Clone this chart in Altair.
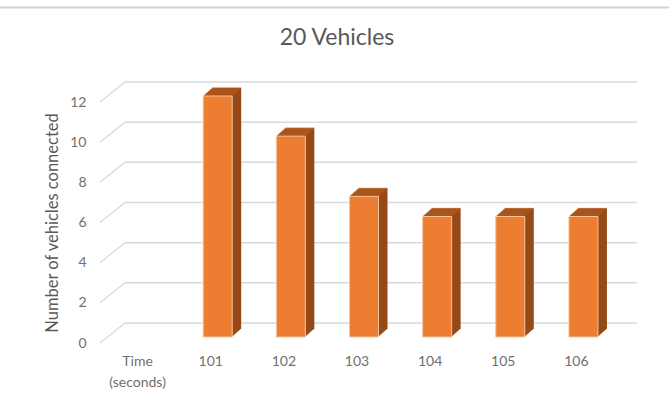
import altair as alt
import pandas as pd

# Chart text
TITLE = "20 Vehicles"
Y_TITLE = "Number of vehicles connected"

# Data: vehicles connected at each second (the first category carries no value)
categories = ["Time (seconds)", "101", "102", "103", "104", "105", "106"]
vehicles = [None, 12, 10, 7, 6, 6, 6]
y_ticks = [0, 2, 4, 6, 8, 10, 12]

# Layout (pixels)
W, H = 512, 241
LEFT, TOP = 101, 102
FONT = "Lato"

# 3-D column styling
FRONT = "#ed7d31"
EDGE = "#f6c4a0"
SIDE = "#964a17"
TOPC = "#b2591d"
GRID = "#d9d9d9"
BAR_W = 29
BAR_DX, BAR_DY = 7, -6        # front face sits slightly behind the floor edge
DEPTH_X, DEPTH_Y = 9, 8       # extrusion of the columns
WALL_DX, WALL_DY = 25, -20    # back wall offset for the gridlines

bars = pd.DataFrame({"time": categories, "vehicles": vehicles})
grid = pd.DataFrame({"tick": y_ticks})
title_df = pd.DataFrame({"title": [TITLE]})

x_enc = alt.X(
    "time:N",
    scale=alt.Scale(domain=categories, paddingInner=0, paddingOuter=0),
    axis=alt.Axis(
        title=None, labelAngle=0, labelPadding=11, domain=False, ticks=False,
        labelExpr="split(datum.label, ' ')", labelLineHeight=21,
        labelFontSize=14, labelColor="#6f6f6f", labelFont=FONT,
    ),
)
y_scale = alt.Scale(domain=[0, 12], nice=False, zero=True)
y_axis = alt.Axis(
    values=y_ticks, title=Y_TITLE, grid=False, domain=False, ticks=False,
    labelPadding=15, labelFontSize=14, labelColor="#6f6f6f", labelFont=FONT,
    titleFontSize=16.5, titleFontWeight="normal", titleColor="#595959",
    titleFont=FONT, titlePadding=9,
)
y_enc = alt.Y("vehicles:Q", scale=y_scale, axis=y_axis, title=Y_TITLE)
y_tick = alt.Y("tick:Q", scale=y_scale, axis=y_axis, title=Y_TITLE)

base = alt.Chart(bars)

# Back-wall gridlines
grid_lines = alt.Chart(grid).mark_rule(color=GRID, strokeWidth=1.5, yOffset=WALL_DY).encode(
    y=y_tick,
    x=alt.value(WALL_DX - 1),
    x2=alt.value(536),
)

# Side-wall connectors from the floor edge to the back wall
connectors = alt.Chart(grid).mark_rule(color=GRID, strokeWidth=1.2, y2Offset=WALL_DY).encode(
    y=y_tick,
    y2=alt.Y2("tick"),
    x=alt.value(-1),
    x2=alt.value(WALL_DX - 1),
)

layers = [grid_lines, connectors]

# Extruded side of each column
for k in range(DEPTH_X, 0, -1):
    dy = BAR_DY - k * DEPTH_Y / DEPTH_X
    layers.append(
        base.mark_bar(size=BAR_W, color=SIDE, xOffset=BAR_DX + k, x2Offset=BAR_DX + k,
                      yOffset=dy, y2Offset=dy).encode(x=x_enc, y=y_enc)
    )

# Top face of each column
for k in range(1, DEPTH_X + 1):
    dy = BAR_DY - k * DEPTH_Y / DEPTH_X
    layers.append(
        base.mark_tick(size=BAR_W, thickness=1.3, color=TOPC, orient="horizontal",
                       xOffset=BAR_DX + k, yOffset=dy).encode(x=x_enc, y=y_enc)
    )

# Front face
layers.append(
    base.mark_bar(size=BAR_W, color=FRONT, stroke=EDGE, strokeWidth=1,
                  xOffset=BAR_DX, x2Offset=BAR_DX, yOffset=BAR_DY, y2Offset=BAR_DY)
    .encode(x=x_enc, y=y_enc)
)

# Chart frame line and title
frame_line = alt.Chart(title_df).mark_rule(color="#d3d3d3", strokeWidth=2).encode(
    x=alt.value(-LEFT), x2=alt.value(669 - LEFT), y=alt.value(7.5 - TOP)
)
title_text = alt.Chart(title_df).mark_text(
    fontSize=23, font=FONT, color="#595959", baseline="middle", align="center"
).encode(text="title:N", x=alt.value(337 - LEFT), y=alt.value(38 - TOP))
layers += [frame_line, title_text]

chart = alt.layer(*layers).properties(
    width=W, height=H,
    autosize=alt.AutoSizeParams(type="none"),
    padding={"left": LEFT, "top": TOP, "right": 669 - LEFT - W, "bottom": 408 - TOP - H},
    background="white",
).configure_view(stroke=None)

chart.save("out.html", embed_options={"renderer": "svg", "actions": False})
